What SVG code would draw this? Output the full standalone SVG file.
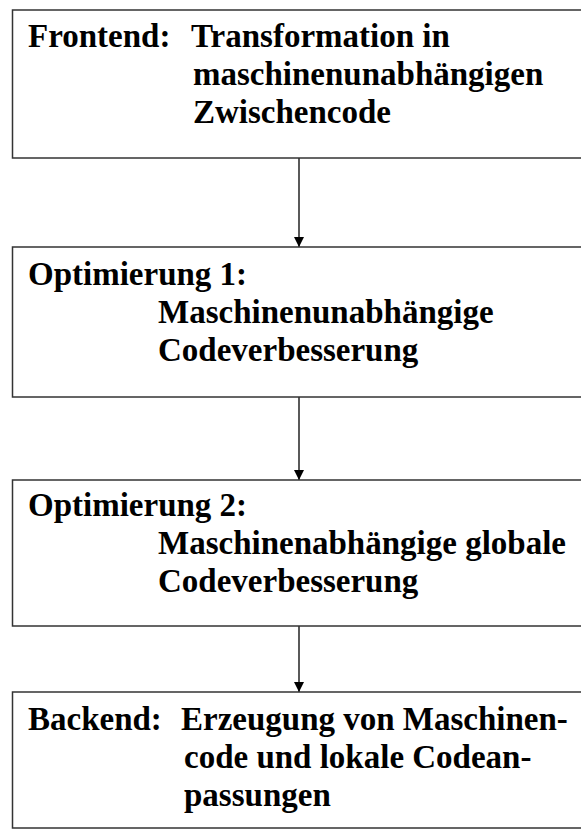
<svg xmlns="http://www.w3.org/2000/svg" width="581" height="837" viewBox="0 0 581 837">
<style>
.box{fill:#fff;stroke:#333;stroke-width:1.5}
.t{font-family:"Liberation Serif","Times New Roman",serif;font-weight:bold;font-size:33px;fill:#000}
.c{stroke:#000;stroke-width:1.3;fill:none}
</style>
<defs>
<marker id="ah" markerUnits="userSpaceOnUse" markerWidth="10" markerHeight="10" refX="10" refY="5" orient="auto">
<path d="M0,0 L10,5 L0,10 Z" fill="#000"/>
</marker>
</defs>
<rect width="581" height="837" fill="#fff"/>
<g id="connectors">
<line class="c" x1="299" y1="158" x2="299" y2="247" marker-end="url(#ah)"/>
<line class="c" x1="299" y1="397" x2="299" y2="480" marker-end="url(#ah)"/>
<line class="c" x1="299" y1="626" x2="299" y2="692" marker-end="url(#ah)"/>
</g>
<g id="frontend">
<rect class="box" x="12.5" y="10" width="600" height="148"/>
<text class="t"><tspan x="28" y="47">Frontend:</tspan><tspan x="191" y="47">Transformation in</tspan><tspan x="193" y="85">maschinenunabhängigen</tspan><tspan x="193" y="123">Zwischencode</tspan></text>
</g>
<g id="opt1">
<rect class="box" x="12.5" y="247" width="600" height="150"/>
<text class="t"><tspan x="28" y="285">Optimierung 1:</tspan><tspan x="158" y="323">Maschinenunabhängige</tspan><tspan x="158" y="361">Codeverbesserung</tspan></text>
</g>
<g id="opt2">
<rect class="box" x="12.5" y="480" width="600" height="146"/>
<text class="t"><tspan x="28" y="516">Optimierung 2:</tspan><tspan x="158" y="554">Maschinenabhängige globale</tspan><tspan x="158" y="592">Codeverbesserung</tspan></text>
</g>
<g id="backend">
<rect class="box" x="12.5" y="692" width="600" height="136"/>
<text class="t"><tspan x="28" y="730">Backend:</tspan><tspan x="181" y="730">Erzeugung von Maschinen-</tspan><tspan x="184" y="768">code und lokale Codean-</tspan><tspan x="184" y="806">passungen</tspan></text>
</g>
</svg>
